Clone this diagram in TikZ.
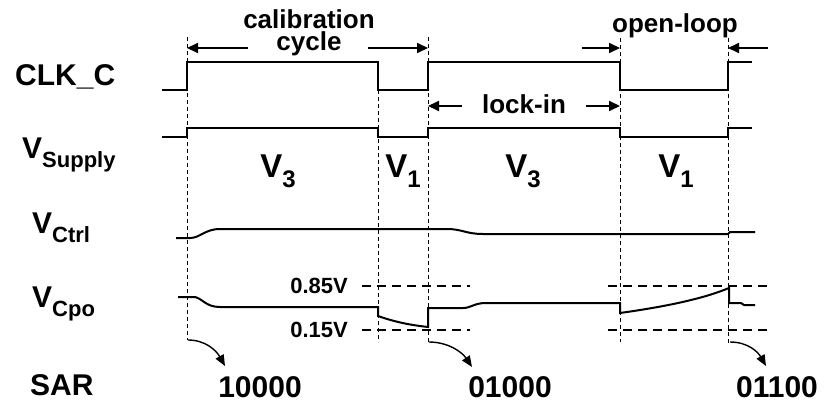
\documentclass[tikz,border=0pt]{standalone}
\usepackage{fontspec}
\setmainfont{Liberation Sans}
\usetikzlibrary{arrows.meta}
\newcommand{\fsz}[1]{\fontsize{#1}{#1}\selectfont}
\newcommand{\lowsub}[2]{\raisebox{-#1}{\fsz{22}#2}}
\begin{document}
\begin{tikzpicture}[x=1pt,y=-1pt,
  wave/.style={line width=2pt,line join=miter},
  guide/.style={dash pattern=on 4pt off 3pt,line width=0.9pt},
  level/.style={dash pattern=on 9pt off 6pt,line width=1.6pt},
  span/.style={line width=2pt,-{Triangle[length=11pt,width=10pt]}},
  hop/.style={line width=1.4pt,-{Triangle[length=11pt,width=9pt]}},
  signame/.style={font=\bfseries\fsz{30},inner sep=0pt,anchor=base west},
  note/.style={font=\bfseries\fsz{26},inner sep=0pt,anchor=base},
  phase/.style={font=\bfseries\fsz{33},inner sep=0pt,anchor=base}]
\useasboundingbox (0,0) rectangle (830,404);
% guide lines at the clock edges
\coordinate (g1) at (187,37);
\coordinate (g2) at (378,90);
\coordinate (g3) at (428,37);
\coordinate (g4) at (620,38);
\coordinate (g5) at (728,38);
\draw[guide] (g1) -- ++(0,303);
\draw[guide] (g2) -- ++(0,252);
\draw[guide] (g3) -- ++(0,305);
\draw[guide] (g4) -- ++(0,304);
\draw[guide] (g5) -- ++(0,305);
% signal names
\node[signame] (clk) at (15,85) {CLK\_C};
\node[signame] (vsup) at (22,158) {V\lowsub{9pt}{Supply}};
\node[signame] (vctrl) at (32,233) {V\lowsub{9pt}{Ctrl}};
\node[signame] (vcpo) at (32,307) {V\lowsub{9pt}{Cpo}};
\node[signame] (sar) at (30,395) {SAR};
% waveforms
\draw[wave] (162,90) -- (187,90) -- (187,62) -- (378,62) -- (378,90) -- (428,90)
  -- (428,62) -- (620,62) -- (620,90) -- (728,90) -- (728,62) -- (752,62);
\draw[wave] (162,137) -- (187,137) -- (187,128) -- (378,128) -- (378,137) -- (428,137)
  -- (428,128) -- (620,128) -- (620,137) -- (728,137) -- (728,128) -- (752,128);
\draw[wave] (176,238) -- (190,238) .. controls (200,238) and (205,229) .. (220,229) -- (447,229)
  .. controls (462,229) and (466,234) .. (483,234) -- (728,234) -- (730,232) -- (755,232);
\draw[wave] (178,297) -- (195,297) .. controls (203,299) and (206,307) .. (220,307) -- (378,307)
  -- (378,316) .. controls (395,322) and (410,325) .. (428,327) -- (428,308) -- (463,308)
  .. controls (471,308) and (474,303) .. (486,303) -- (620,303) -- (620,313)
  .. controls (670,306) and (705,298) .. (729,288) -- (729,303) -- (741,303) -- (744,305) -- (755,305);
% phase windows
\node[note,font=\bfseries\fontsize{26}{22}\selectfont,align=center,anchor=north] (cal) at (309,9) {calibration\\cycle};
\coordinate (calL) at (248,48);
\coordinate (calR) at (368,48);
\draw[span] (calL) -- (calL -| g1);
\draw[span] (calR) -- (calR -| g3);
\node[note] (ol) at (675,33) {open-loop};
\coordinate (olL) at (582,48);
\coordinate (olR) at (768,48);
\draw[span] (olL) -- (olL -| g4);
\draw[span] (olR) -- (olR -| g5);
\node[note] (lock) at (524,113) {lock-in};
\coordinate (lkL) at (462,106);
\coordinate (lkR) at (586,106);
\draw[span] (lkL) -- (lkL -| g3);
\draw[span] (lkR) -- (lkR -| g4);
% supply levels
\node[phase] (va) at (278,177) {V\lowsub{10pt}{\fsz{24}3}};
\node[phase] (vb) at (403,177) {V\lowsub{10pt}{\fsz{24}1}};
\node[phase] (vc) at (523,177) {V\lowsub{10pt}{\fsz{24}3}};
\node[phase] (vd) at (676,177) {V\lowsub{10pt}{\fsz{24}1}};
% comparator window
\node[note,font=\bfseries\fsz{22},anchor=east] (hi) at (348,286) {0.85V};
\node[note,font=\bfseries\fsz{22},anchor=east] (lo) at (348,330) {0.15V};
\draw[level] (362,286) -- (470,286);
\draw[level] (608,286) -- (768,286);
\draw[level] (362,330) -- (470,330);
\draw[level] (608,330) -- (768,330);
% SAR codes
\node[phase,font=\bfseries\fsz{30}] (codeA) at (260,397) {10000};
\node[phase,font=\bfseries\fsz{30}] (codeB) at (510,397) {01000};
\node[phase,font=\bfseries\fsz{30}] (codeC) at (777,397) {01100};
\coordinate (s1) at (188,340);
\coordinate (s2) at (429,342);
\coordinate (s3) at (730,342);
\draw[hop] (s1) .. controls (205,340) and (216,350) .. (225,366);
\draw[hop] (s2) .. controls (448,342) and (462,352) .. (472,367);
\draw[hop] (s3) .. controls (748,342) and (758,352) .. (766,366);
\end{tikzpicture}
\end{document}
